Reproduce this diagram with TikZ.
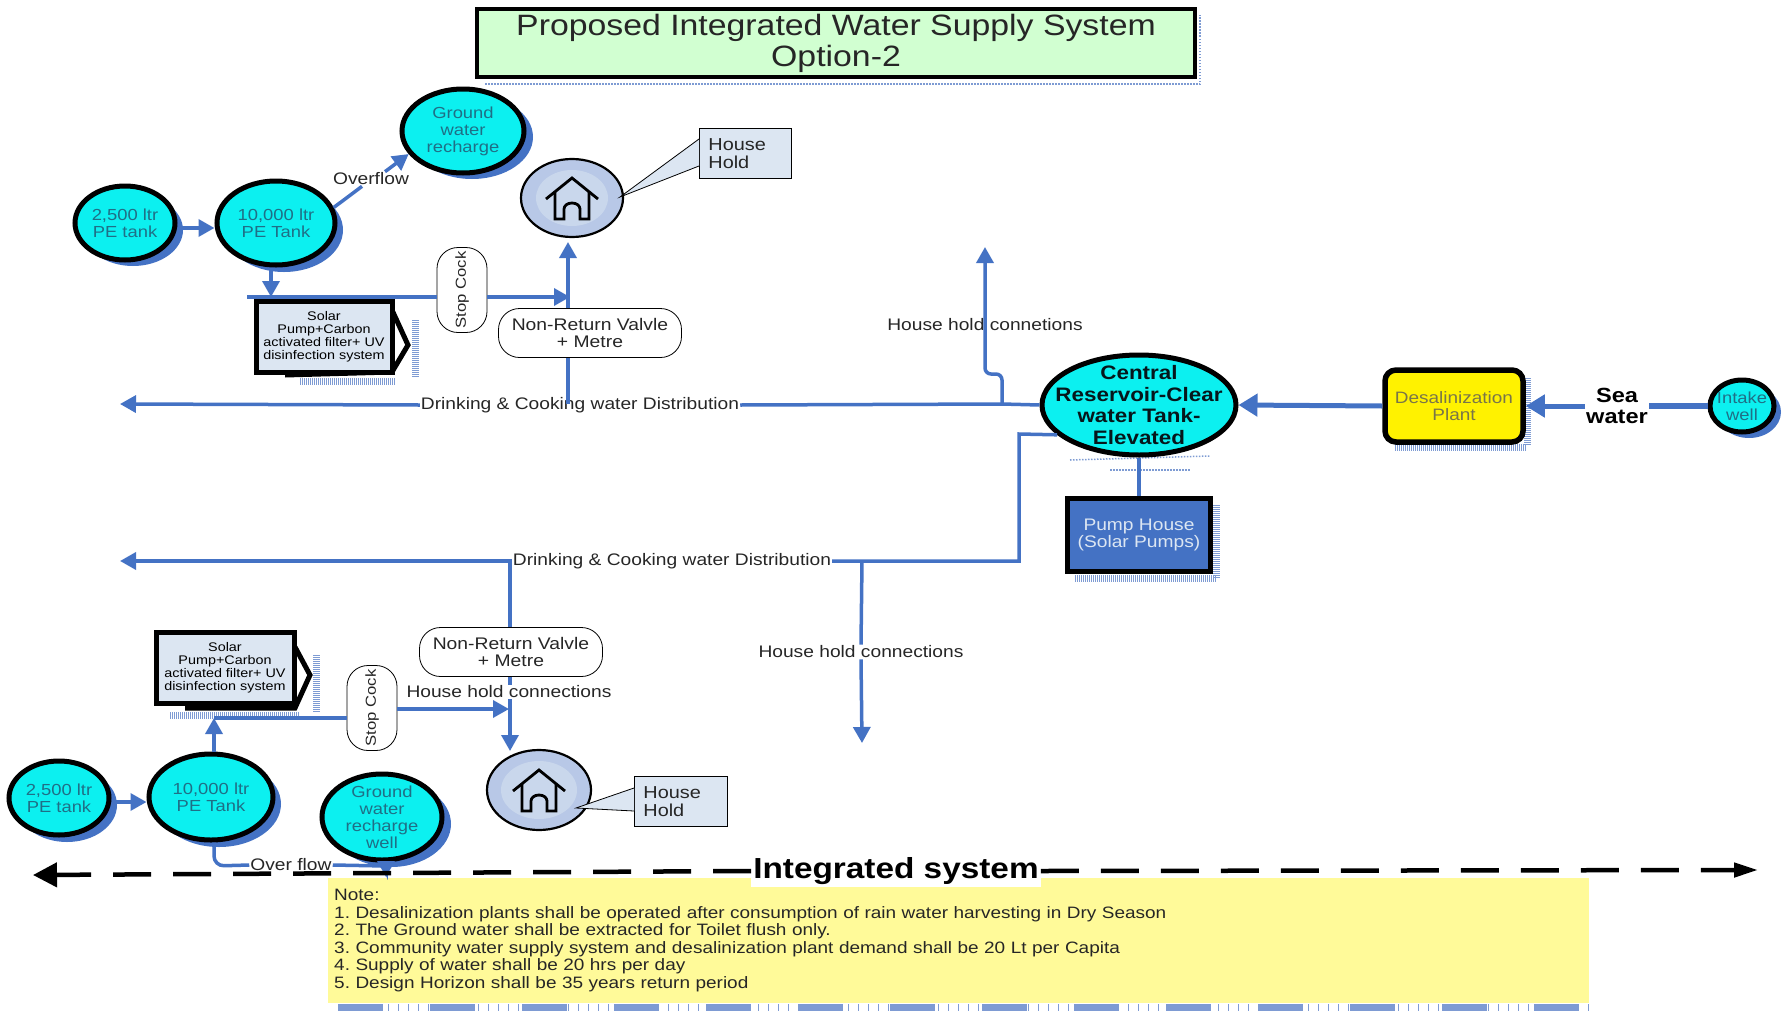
\documentclass[tikz,border=0pt]{standalone}
\usepackage{fontspec}
\setmainfont[FakeStretch=1.15]{Liberation Sans}
\usetikzlibrary{shapes.geometric,arrows.meta,calc}
\pgfdeclarelayer{background}
\pgfsetlayers{background,main}
\definecolor{pipe}{HTML}{4472C4}
\definecolor{shad}{HTML}{7E9BD3}
\definecolor{tanktxt}{HTML}{1F6F86}
\definecolor{aqua}{HTML}{0CF0F0}
\definecolor{pale}{HTML}{DCE6F2}
\newcommand{\fs}[2]{\fontsize{#1}{#2}\selectfont}
\frenchspacing
\tikzset{
 x=1pt,y=-1pt,
 tank/.style={ellipse,draw=black,line width=5,fill=aqua,inner sep=-8,align=center,text=tanktxt,font=\fs{16}{17}},
 cshadow/.style={fill=pipe},
 pipeline/.style={draw=pipe,line width=3.5},
 flow/.style={pipeline,-{Triangle[length=16,width=17]}},
 thick pipe/.style={draw=pipe,line width=5,-{Triangle[length=19,width=22]}},
 lbl/.style={inner sep=1,align=center,font=\fs{16.7}{17},text=black!85},
 pill/.style={draw=black,line width=.8,fill=white,rounded corners=21,inner sep=0,align=center,font=\fs{16.8}{17},text=black!85},
 solarbox/.style={draw=black,line width=5,fill=pale,inner sep=0,align=center,font=\fs{12.5}{13},minimum width=136,minimum height=71},
 callout/.style={draw=black,line width=.8,fill=pale,inner sep=0,inner xsep=9,align=left,font=\fs{17.3}{17.5},text=black!85,anchor=north west,text width=74,minimum height=50},
 stripe/.style={draw=shad,line width=7,dash pattern=on 1 off 1},
 dotline/.style={draw=shad,line width=1.5,dash pattern=on 1.5 off 1.5},
 bigdash/.style={draw=black,line width=4.5,dash pattern=on 38 off 22},
}
\newcommand{\houseicon}[1]{%
 \begin{scope}[shift={(#1)},line width=2.8,line join=miter,draw=black]
  \draw (-26,1) -- (0,-20) -- (26,1);
  \draw (-17,-7) -- (-17,21) -- (-8,21) -- (-8,11) arc[start angle=180,end angle=0,x radius=8,y radius=-6] -- (8,21) -- (17,21) -- (17,-7);
 \end{scope}}
\begin{document}
\begin{tikzpicture}
\useasboundingbox (0,0) rectangle (1792,1015);
% title
\node[draw=black,line width=4,fill=green!18!white,minimum width=718,minimum height=68,anchor=north west,inner sep=0,align=center,font=\fs{29.4}{31},text=black!85] (title) at (475,7) {Proposed Integrated Water Supply System\\Option-2};
% upper-left group
\node[tank,minimum width=100,minimum height=74] (t1) at (125,223) {2,500 ltr\\PE tank};
\node[tank,minimum width=118,minimum height=84] (t2) at (276,223) {10,000 ltr\\PE Tank};
\node[tank,minimum width=122,minimum height=84] (g1) at (463,131) {Ground\\water\\recharge};
\node[ellipse,draw=black,line width=2.2,fill=shad!55!white,minimum width=102,minimum height=78,inner sep=0] (h1) at (572,198) {};
\fill[pale!80!shad] (572,198) ellipse[x radius=36,y radius=28];
\houseicon{572,198}
\node[callout] (c1) at (699,128) {House\\Hold};
\coordinate (c1tip) at (620,197);
\fill[pale] (c1.west |- 0,139) -- (c1tip) -- (c1.west |- 0,166) -- cycle;
\draw[line width=.8] (c1.west |- 0,139) -- (c1tip) -- (c1.west |- 0,166);
\node[solarbox] (s1) at (324,337) {Solar\\Pump+Carbon\\activated filter+ UV\\disinfection system};
\node[pill,rotate=90,minimum width=85,minimum height=50,font=\fs{14.5}{17}] (sc1) at (462,290) {Stop Cock};
\node[pill,minimum width=183,minimum height=49] (nr1) at (590,333) {Non-Return Valvle\\+ Metre};
\node[lbl] (ov1) at (371,179) {Overflow};
\node[lbl] (d1) at (580,405) {Drinking \& Cooking water Distribution};
% lower-left group
\node[tank,minimum width=100,minimum height=74] (t3) at (59,798) {2,500 ltr\\PE tank};
\node[tank,minimum width=124,minimum height=86] (t4) at (211,797) {10,000 ltr\\PE Tank};
\node[tank,minimum width=120,minimum height=86] (g2) at (382,817) {Ground\\water\\recharge\\well};
\node[ellipse,draw=black,line width=2.2,fill=shad!55!white,minimum width=104,minimum height=80,inner sep=0] (h2) at (539,790) {};
\fill[pale!80!shad] (539,790) ellipse[x radius=38,y radius=29];
\houseicon{539,790}
\node[callout,text width=75] (c2) at (634,776) {House\\Hold};
\coordinate (c2tip) at (576,808);
\fill[pale] (c2.west |- 0,788) -- (c2tip) -- (c2.west |- 0,811) -- cycle;
\draw[line width=.8] (c2.west |- 0,788) -- (c2tip) -- (c2.west |- 0,811);
\node[solarbox,minimum width=138] (s2) at (225,668) {Solar\\Pump+Carbon\\activated filter+ UV\\disinfection system};
\node[pill,rotate=90,minimum width=85,minimum height=50,font=\fs{14.5}{17}] (sc2) at (372,708) {Stop Cock};
\node[pill,minimum width=183,minimum height=49] (nr2) at (511,652) {Non-Return Valvle\\+ Metre};
\node[lbl] (hc3) at (509,692) {House hold connections};
\node[lbl] (ov2) at (291,865) {Over flow};
\node[lbl] (d2) at (672,561) {Drinking \& Cooking water Distribution};
\node[lbl] (hc2) at (861,652) {House hold connections};
\node[lbl] (hc1) at (985,325) {House hold connetions};
% right group
\node[tank,text=black!80!tanktxt,minimum width=194,minimum height=100,inner xsep=-30,inner ysep=-16,font=\fs{19.5}{21.5}\bfseries] (cr) at (1139,405) {Central\\Reservoir-Clear\\water Tank-\\Elevated};
\node[draw=black,line width=5.5,fill=pipe,minimum width=143,minimum height=73,inner sep=0,align=center,text=pale,font=\fs{16.7}{17.5}] (pump) at (1139,535) {Pump House\\(Solar Pumps)};
\node[draw=black,line width=5.5,fill=yellow,rounded corners=11,minimum width=138,minimum height=72,inner sep=0,align=center,text=black!60!yellow,font=\fs{16.5}{17.5}] (desal) at (1454,406) {Desalinization\\Plant};
\node[tank,minimum width=64,minimum height=52,inner sep=-12] (intake) at (1742,406) {Intake\\well};
\node[inner sep=1,align=center,font=\fs{20.5}{21}\bfseries] (sea) at (1617,406) {Sea\\water};
% bottom
\node[fill=yellow!40!white,draw=none,minimum width=1261,minimum height=125,text width=1249,anchor=north west,inner sep=0,align=left,font=\fs{16.5}{17.5},text=black!85] (note) at (328,878) {Note:\\1. Desalinization plants shall be operated after consumption of rain water harvesting in Dry Season\\2. The Ground water shall be extracted for Toilet flush only.\\3. Community water supply system and desalinization plant demand shall be 20 Lt per Capita\\4. Supply of water shall be 20 hrs per day\\5. Design Horizon shall be 35 years return period};
\node[inner sep=2,fill=white,font=\fs{29}{30}\bfseries] (integ) at (896,871) {Integrated system};
% free ends
\coordinate (e1) at (120,404);
\coordinate (e2) at (120,561);
\coordinate (e3) at (862,743);
\coordinate (e4) at (985,247);
\coordinate (j1) at (1002,404);
\coordinate (j2) at (862,561);
\coordinate (j3) at (568,404);
\coordinate (k1) at (247,297);
\coordinate (k2) at (570,297);
\coordinate (k3) at (568,242);
\coordinate (m1) at (509,709);
\coordinate (m2) at (510,561);
\coordinate (m3) at (510,751);
\coordinate (m4) at (214,718);
\coordinate (dl) at (33,875);
\coordinate (dr) at (1758,870);
% connectors upper left
\draw[flow] (t1.east |- 0,228) -- (t2.west |- 0,228);
\draw[pipeline] (t2.15) -- ($(ov1.south)+(-9,0)$);
\draw[flow] ($(ov1.north)+(14,0)$) -- (g1.203);
\draw[flow] (t2.south -| 271,0) -- (271,297);
\draw[pipeline] (k1) -- (sc1.north |- k1);
\draw[flow] (sc1.south |- k1) -- (k2);
\draw[pipeline] (j3) -- (nr1.south -| j3);
\draw[flow] (nr1.north -| j3) -- (k3);
\draw[flow] (d1.west) -- (e1);
\draw[pipeline] (d1.east) -- (j1) -- (cr.west);
\draw[flow,rounded corners=6] (j1) -- (1002,374) -- (985,374) -- (e4);
% connectors right
\draw[thick pipe] (desal.west) -- (cr.east);
\draw[thick pipe] (sea.west) -- (desal.east);
\draw[draw=pipe,line width=5.5] (intake.west) -- (sea.east);
\draw[draw=pipe,line width=4] (cr.south) -- (pump.north);
\draw[pipeline] (cr.200) -- (1019,434) -- (1019,561) -- (d2.east);
\draw[flow] (d2.west) -- (e2);
\draw[pipeline] (j2) -- (hc2.north);
\draw[flow] (hc2.south) -- (e3);
% connectors lower left
\draw[flow] (t3.east |- 0,802) -- (t4.west |- 0,802);
\draw[flow] (t4.north -| m4) -- (m4);
\draw[pipeline] (m4) -- (sc2.north |- m4);
\draw[flow] (sc2.south |- m1) -- (m1);
\draw[pipeline] (m2) -- (nr2.north -| m2);
\draw[pipeline] (nr2.south -| m2) -- (hc3.north -| m2);
\draw[flow] (hc3.south -| m2) -- (m3);
\draw[pipeline,rounded corners=10] (t4.south -| 214,0) -- (214,866) -- (ov2.west);
\draw[flow,rounded corners=5] (ov2.east) -- (386,866) -- (386,877);
% integrated arrow
\draw[bigdash,-{Triangle[length=24,width=24]}] (integ.west) -- (dl);
\draw[bigdash,-{Triangle[length=24,width=14]}] (integ.east) -- (dr);
% shadows
\begin{pgfonlayer}{background}
 \fill[cshadow] (133,230) ellipse[x radius=50,y radius=36];
 \fill[cshadow] (284,230) ellipse[x radius=59,y radius=42];
 \fill[cshadow] (472,137) ellipse[x radius=61,y radius=42];
 \fill[cshadow] (67,805) ellipse[x radius=50,y radius=37];
 \fill[cshadow] (219,804) ellipse[x radius=62,y radius=43];
 \fill[cshadow] (391,824) ellipse[x radius=60,y radius=43];
 \fill[cshadow] (1749,412) ellipse[x radius=32,y radius=26];
 \draw[dotline] (485,84) -- (1200,84) -- (1200,15);
 \draw[dotline] (1070,460) -- (1210,456);
 \draw[dotline] (1110,470) -- (1190,470);
 \draw[stripe] (1527,378) -- (1527,445);
 \draw[stripe] (1395,447) -- (1527,447);
 \draw[stripe] (1216,505) -- (1216,578);
 \draw[stripe] (1075,578) -- (1216,578);
 \draw[stripe,dash pattern=on 45 off 47] (338,1007) -- (1589,1007);
 \draw[draw=shad,line width=7,dash pattern=on 1 off 9] (338,1007) -- (1589,1007);
 \draw[black,line width=5,line join=miter] (392,310) -- (408,345) -- (392,372) -- (285,375);
 \draw[stripe] (300,381) -- (395,381);
 \draw[stripe] (415,320) -- (415,378);
 \draw[black,line width=5,line join=miter] (295,647) -- (310,675) -- (295,708) -- (185,708);
 \draw[stripe] (170,715) -- (300,715);
 \draw[stripe] (316,655) -- (316,712);
\end{pgfonlayer}
\end{tikzpicture}
\end{document}
